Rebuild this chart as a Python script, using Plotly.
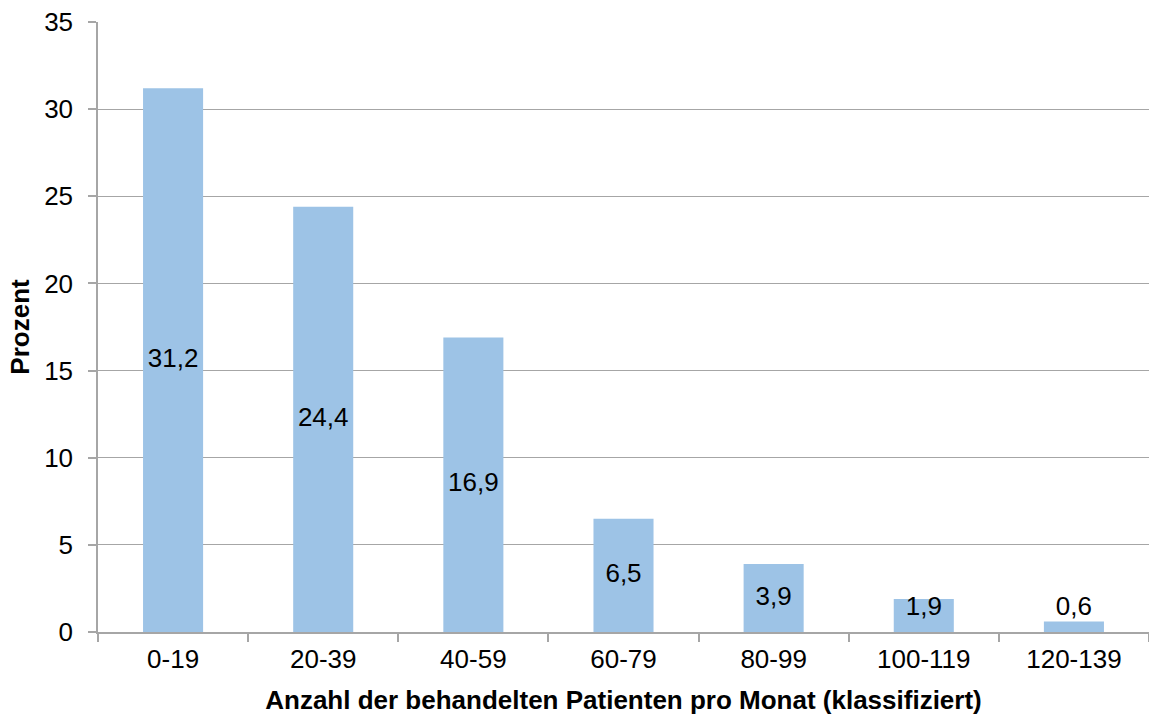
import plotly.graph_objects as go

# Verteilung der Praxen nach Anzahl behandelter Patienten pro Monat
klassen = ["0-19", "20-39", "40-59", "60-79", "80-99", "100-119", "120-139"]
prozent = [31.2, 24.4, 16.9, 6.5, 3.9, 1.9, 0.6]
y_ticks = [0, 5, 10, 15, 20, 25, 30, 35]

FONT = "Liberation Sans, Arial, sans-serif"
BAR_COLOR = "#9DC3E6"
GRID = "#A6A6A6"

labels = [f"{v:.1f}".replace(".", ",") for v in prozent]
# Labels sit in the middle of each bar, but never lower than just above the axis
label_y = [max(v / 2, 1.35) for v in prozent]

fig = go.Figure()
fig.add_trace(go.Bar(
    x=klassen, y=prozent, width=0.4,
    marker=dict(color=BAR_COLOR, line=dict(width=0)),
    hoverinfo="skip",
))
fig.add_trace(go.Scatter(
    x=klassen, y=label_y, mode="text", text=labels,
    textfont=dict(family=FONT, size=26, color="#000000"),
    textposition="middle center", hoverinfo="skip",
))

fig.update_layout(
    width=1149, height=717,
    margin=dict(l=98, r=0, t=22, b=85),
    paper_bgcolor="white", plot_bgcolor="white",
    showlegend=False,
    font=dict(family=FONT, size=26, color="#000000"),
)
fig.update_xaxes(
    type="category", range=[-0.5, 6.5],
    showline=True, linecolor=GRID, linewidth=1.5,
    ticks="outside", tickson="boundaries", ticklen=8, tickcolor=GRID, tickwidth=1.5,
    showgrid=False, tickfont=dict(size=26), ticklabelstandoff=3,
    title=dict(text="<b>Anzahl der behandelten Patienten pro Monat (klassifiziert)</b>",
               font=dict(size=26), standoff=18),
)
fig.update_yaxes(
    range=[0, 35], tickvals=y_ticks,
    showline=True, linecolor=GRID, linewidth=1.5,
    ticks="outside", ticklen=8, tickcolor=GRID, tickwidth=1.5,
    showgrid=True, gridcolor=GRID, gridwidth=1.2, zeroline=False,
    tickfont=dict(size=26), ticklabelstandoff=10,
    title=dict(text="<b>Prozent</b>", font=dict(size=26), standoff=7),
)

fig.write_html("out.html")
